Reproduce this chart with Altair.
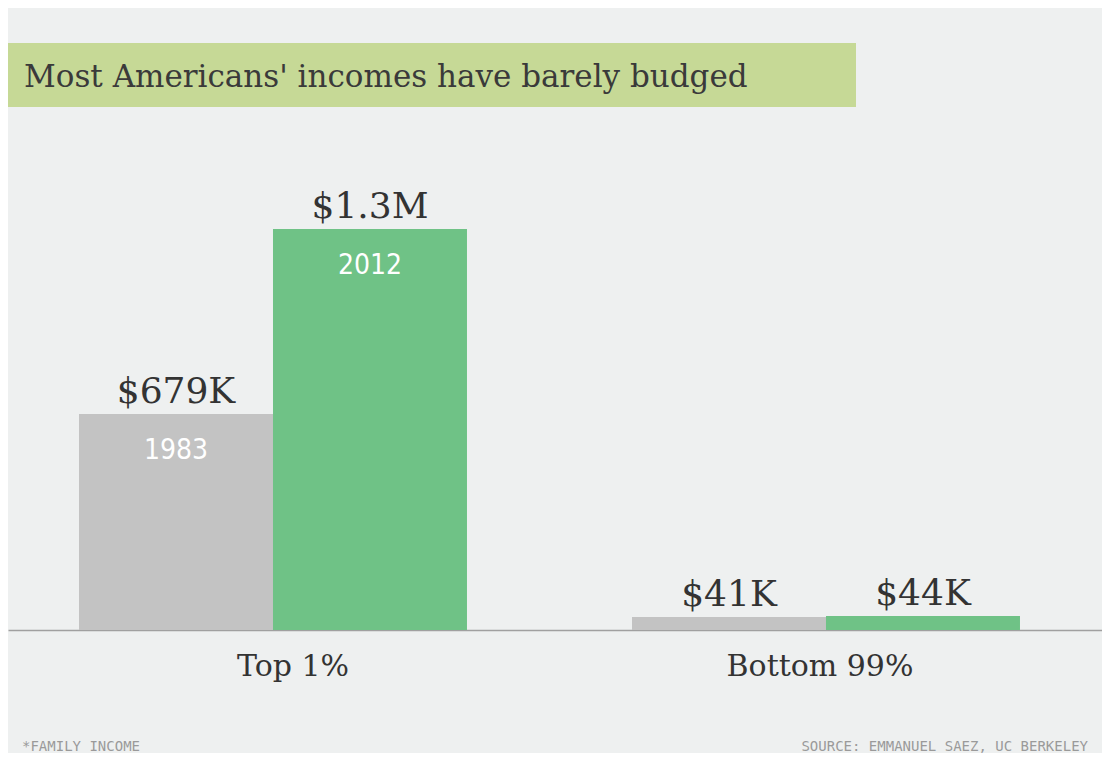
import altair as alt
import pandas as pd

# ---- data ----
groups = ["Top 1%", "Top 1%", "Bottom 99%", "Bottom 99%"]
years = ["1983", "2012", "1983", "2012"]
incomes = [679000, 1260000, 41000, 44000]
value_labels = ["$679K", "$1.3M", "$41K", "$44K"]
year_labels = ["1983", "2012", "", ""]

title_text = "Most Americans' incomes have barely budged"
note_text = "*FAMILY INCOME"
source_text = "SOURCE: EMMANUEL SAEZ, UC BERKELEY"

GRAY = "#c3c3c3"
GREEN = "#6fc286"
BG = "#eef0f0"

df = pd.DataFrame({
    "group": groups,
    "year": years,
    "income": incomes,
    "vlabel": value_labels,
    "ylabel": year_labels,
})

W, H = 1094, 622

x = alt.X(
    "group:N",
    sort=["Top 1%", "Bottom 99%"],
    scale=alt.Scale(paddingInner=0.2984, paddingOuter=0.13835, align=0.464),
    axis=alt.Axis(
        title=None,
        labelAngle=0,
        labelFont="DejaVu Serif",
        labelFontSize=30,
        labelColor="#333333",
        labelBaseline="alphabetic",
        labelPadding=45,
        labelLimit=0,
        labelOffset={"condition": {"test": "datum.value === 'Top 1%'", "value": 20}, "value": -6},
        ticks=False,
        tickSize=0,
        domainColor="#a0a0a0",
        domainWidth=1.5,
        grid=False,
    ),
)
xo = alt.XOffset("year:N", scale=alt.Scale(paddingInner=0, paddingOuter=0))
y = alt.Y("income:Q", scale=alt.Scale(domain=[0, 1955000]), axis=None)

base = alt.Chart(df)

bars = base.mark_bar().encode(
    x=x,
    xOffset=xo,
    y=y,
    color=alt.Color(
        "year:N",
        scale=alt.Scale(domain=["1983", "2012"], range=[GRAY, GREEN]),
        legend=None,
    ),
)

vtext = base.mark_text(
    font="DejaVu Serif", fontSize=36, color="#333333",
    baseline="alphabetic", dy=-11,
).encode(x=x, xOffset=xo, y=y, text="vlabel:N")

ytext = base.mark_text(
    font="'Liberation Sans Narrow', 'DejaVu Sans Condensed', 'Roboto Condensed', 'Arial Narrow', sans-serif",
    fontSize=28, color="#ffffff",
    baseline="alphabetic", dy=45,
).encode(x=x, xOffset=xo, y=y, text="ylabel:N")

band = alt.Chart(pd.DataFrame({"t": [title_text]})).mark_rect(color="#c6d996").encode(
    x=alt.value(-8), x2=alt.value(848), y=alt.value(35), y2=alt.value(99)
)
title = alt.Chart(pd.DataFrame({"t": [title_text]})).mark_text(
    font="DejaVu Serif", fontSize=31, color="#3a3a3a", align="left", baseline="alphabetic"
).encode(x=alt.value(16), y=alt.value(79), text="t:N")

note = alt.Chart(pd.DataFrame({"t": [note_text]})).mark_text(
    font="DejaVu Sans Mono", fontSize=14, color="#9a9a9a", align="left",
    baseline="alphabetic",
).encode(x=alt.value(14), y=alt.value(743), text="t:N")

source = alt.Chart(pd.DataFrame({"t": [source_text]})).mark_text(
    font="DejaVu Sans Mono", fontSize=14, color="#9a9a9a", align="right",
    baseline="alphabetic",
).encode(x=alt.value(1080), y=alt.value(743), text="t:N")

chart = alt.layer(band, title, bars, vtext, ytext, note, source).properties(
    width=W,
    height=H,
    background=BG,
    padding={"left": 0, "top": 0, "right": 0, "bottom": 123},
    autosize=alt.AutoSizeParams(type="none"),
).configure_view(stroke=None)

chart.save("out.html", embed_options={"renderer": "svg", "actions": False})
